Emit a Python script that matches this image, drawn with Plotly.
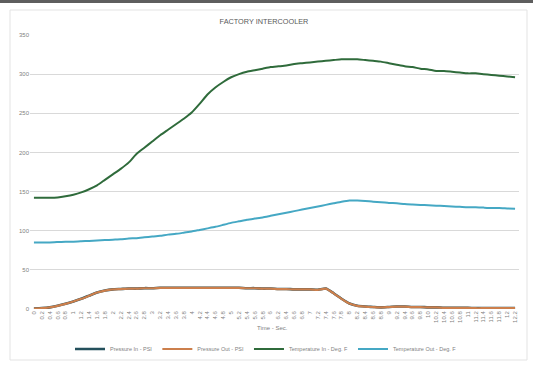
import plotly.graph_objects as go

time_labels = ["0", "0.2", "0.4", "0.6", "0.8", "1", "1.2", "1.4", "1.6", "1.8",
               "2", "2.2", "2.4", "2.6", "2.8", "3", "3.2", "3.4", "3.6", "3.8",
               "4", "4.2", "4.4", "4.6", "4.8", "5", "5.2", "5.4", "5.6", "5.8",
               "6", "6.2", "6.4", "6.6", "6.8", "7", "7.2", "7.4", "7.6", "7.8",
               "8", "8.2", "8.4", "8.6", "8.8", "9", "9.2", "9.4", "9.6", "9.8",
               "10", "10.2", "10.4", "10.6", "10.8", "11", "11.2", "11.4", "11.6", "11.8",
               "12", "12.2"]

pressure_in = [0.6, 1.1, 2.1, 4.1, 6.6, 9.6, 13.1, 17.1, 21.1, 23.6,
               25.1, 25.6, 26.1, 26.1, 26.6, 26.6, 27.1, 27.1, 27.1, 27.1,
               27.1, 27.1, 27.1, 27.1, 27.1, 27.1, 27.1, 26.6, 26.6, 26.1,
               26.1, 25.6, 25.6, 25.1, 25.1, 25.1, 24.6, 26.1, 20.1, 13.1,
               7.1, 4.1, 3.1, 2.6, 2.1, 2.6, 3.1, 3.1, 2.6, 2.6,
               2.1, 2.1, 1.6, 1.6, 1.6, 1.6, 1.1, 1.1, 1.1, 1.1,
               1.1, 1.1]

pressure_out = [0.5, 1.0, 2.0, 4.0, 6.5, 9.5, 13.0, 17.0, 21.0, 23.5,
                25.0, 25.5, 26.0, 26.0, 26.5, 26.5, 27.0, 27.0, 27.0, 27.0,
                27.0, 27.0, 27.0, 27.0, 27.0, 27.0, 27.0, 26.5, 26.5, 26.0,
                26.0, 25.5, 25.5, 25.0, 25.0, 25.0, 24.5, 26.0, 20.0, 13.0,
                7.0, 4.0, 3.0, 2.5, 2.0, 2.5, 3.0, 3.0, 2.5, 2.5,
                2.0, 2.0, 1.5, 1.5, 1.5, 1.5, 1.0, 1.0, 1.0, 1.0,
                1.0, 1.0]

temperature_in = [142, 142, 142, 142.5, 144, 146, 149, 153, 158, 165,
                  172, 179, 187, 198, 206, 214, 222, 229, 236, 243,
                  251, 262, 274, 283, 290, 296, 300, 303, 305, 307,
                  309, 310, 311, 313, 314, 315, 316, 317, 318, 319,
                  319, 319, 318, 317, 316, 314, 312, 310, 309, 307,
                  306, 304, 304, 303, 302, 301, 301, 300, 299, 298,
                  297, 296]

temperature_out = [85, 85, 85, 85.5, 86, 86, 86.5, 87, 87.5, 88,
                   88.5, 89, 90, 90.5, 91.5, 92.5, 93.5, 95, 96, 97.5,
                   99, 101, 103, 105, 107.5, 110, 112, 114, 115.5, 117,
                   119, 121, 123, 125, 127, 129, 131, 133, 135, 137,
                   138.5, 138.5, 138, 137, 136.5, 135.5, 135, 134, 133.5, 133,
                   132.5, 132, 131.5, 131, 130.5, 130, 130, 129.5, 129, 129,
                   128.5, 128]

y_ticks = [0, 50, 100, 150, 200, 250, 300, 350]

series = [
    ("Pressure In - PSI", pressure_in, "#24505c", 2.6),
    ("Pressure Out - PSI", pressure_out, "#cc7f4c", 2.2),
    ("Temperature In - Deg. F", temperature_in, "#2f6b3b", 2.0),
    ("Temperature Out - Deg. F", temperature_out, "#45a8c4", 2.0),
]

fig = go.Figure()
for name, vals, color, w in series:
    fig.add_trace(go.Scatter(x=time_labels, y=vals, mode="lines", name=name,
                             line=dict(color=color, width=w, shape="spline", smoothing=0.5)))

W, H = 533, 370
L, R, T, B = 30, 14, 35, 61
pw, ph = W - L - R, H - T - B

def px(x):
    return (x - L) / pw

def py(y):
    return (H - B - y) / ph

fig.update_layout(
    width=W, height=H,
    margin=dict(l=L, r=R, t=T, b=B, autoexpand=False),
    paper_bgcolor="white", plot_bgcolor="white",
    font=dict(family="Liberation Sans, Arial, sans-serif", color="#7f7f7f", size=6),
    title=dict(text="FACTORY INTERCOOLER", x=264 / W, xanchor="center",
               y=1 - 21 / H, yanchor="middle",
               font=dict(size=7.3, color="#595959")),
    showlegend=True,
    legend=dict(orientation="h", x=px(266), xanchor="center", y=py(349), yanchor="middle",
                font=dict(size=5.5, color="#7f7f7f"), itemwidth=30,
                bgcolor="rgba(0,0,0,0)"),
    xaxis=dict(type="category", range=[-0.5, len(time_labels) - 0.5], automargin=False,
               tickangle=-90, showgrid=False, zeroline=False,
               showline=False, ticks="", tickfont=dict(size=6, color="#7f7f7f")),
    yaxis=dict(range=[0, 350], tickvals=y_ticks, showgrid=True, gridcolor="#d9d9d9",
               gridwidth=1, zeroline=False, showline=False, ticks="", automargin=False,
               tickfont=dict(size=6, color="#7f7f7f")),
    shapes=[
        dict(type="rect", xref="paper", yref="paper",
             x0=px(10), x1=px(527), y0=py(360), y1=py(10),
             line=dict(color="#e3e3e3", width=1), fillcolor="rgba(0,0,0,0)", layer="below"),
        dict(type="rect", xref="paper", yref="paper",
             x0=px(-5), x1=px(540), y0=py(3), y1=py(-5),
             line=dict(width=0), fillcolor="#5e5e5e", layer="below"),
    ],
    annotations=[
        dict(text="Time - Sec.", xref="paper", yref="paper", x=px(272), y=py(328),
             xanchor="center", yanchor="middle", showarrow=False,
             font=dict(size=6, color="#7f7f7f")),
    ],
)

fig.write_html("out.html", config={"displayModeBar": False},
               post_script="document.body.style.margin='0';")
